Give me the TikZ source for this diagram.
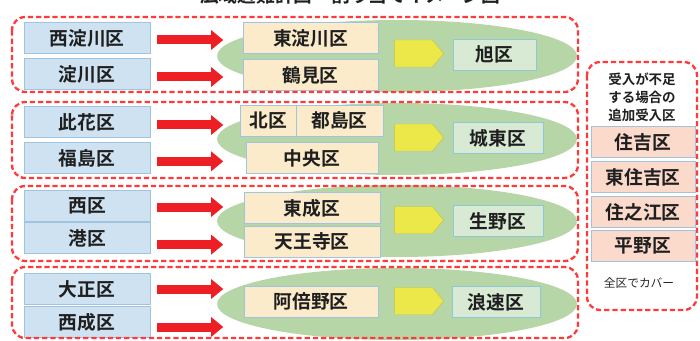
\documentclass[tikz,border=0pt]{standalone}
\usepackage{fontspec}
\setmainfont{Noto Sans CJK JP}[BoldFont={Noto Sans CJK JP Bold}]
\usetikzlibrary{shapes.geometric,shapes.symbols,arrows.meta}
\newcommand{\pxu}{0.03cm}
\definecolor{srcblue}{RGB}{207,226,242}
\definecolor{boxline}{RGB}{160,196,224}
\definecolor{beige}{RGB}{251,235,203}
\definecolor{dstgreen}{RGB}{216,233,212}
\definecolor{dstline}{RGB}{140,200,214}
\definecolor{peach}{RGB}{251,218,203}
\definecolor{ovalgreen}{RGB}{183,214,168}
\definecolor{signyellow}{RGB}{236,232,74}
\definecolor{signline}{RGB}{196,194,70}
\definecolor{arrowred}{RGB}{237,30,36}
\definecolor{dashred}{RGB}{255,58,58}

\begin{document}
\begin{tikzpicture}[x=\pxu,y=-\pxu,
  big_font/.style={font=\bfseries\fontsize{16}{18}\selectfont,text=black!88},
  src_node/.style={draw=boxline,fill=srcblue,minimum width=126*\pxu,minimum height=31*\pxu,inner sep=0,big_font},
  mid_node/.style={draw=boxline,fill=beige,minimum height=31*\pxu,inner sep=0,big_font},
  dst_node/.style={draw=dstline,fill=dstgreen,minimum height=31*\pxu,inner sep=0,big_font},
  add_node/.style={draw=boxline,fill=peach,minimum width=104*\pxu,minimum height=31*\pxu,inner sep=0,big_font},
  green_oval/.style={ellipse,fill=ovalgreen,minimum width=360*\pxu,minimum height=72*\pxu,inner sep=0},
  yellow_sign/.style={signal,signal to=east,signal pointer angle=100,fill=signyellow,draw=signline,minimum width=49*\pxu,minimum height=27*\pxu,inner sep=0},
  red_arrow/.style={draw=arrowred,line width=0.27cm,-{Triangle[width=0.57cm,length=0.36cm]}},
  group_frame/.style={draw=dashred,line width=0.07cm,dash pattern=on 4.5pt off 2.5pt,rounded corners=0.4cm}]
    \useasboundingbox (0,0) rectangle (700,341);
    \node[big_font,anchor=base] (0) at (350,3) {広域避難計画　割り当てイメージ図};

    % green areas
    \node[green_oval] (e1) at (397,56) {};
    \node[green_oval] (e2) at (397,139) {};
    \node[green_oval] (e3) at (397,221) {};
    \node[green_oval] (e4) at (397,304) {};

    % left side
    \node[src_node] (1) at (87,38) {西淀川区};
    \node[src_node] (2) at (87,74) {淀川区};
    \node[src_node] (3) at (87,122) {此花区};
    \node[src_node] (4) at (87,158) {福島区};
    \node[src_node] (5) at (87,206) {西区};
    \node[src_node] (6) at (87,238) {港区};
    \node[src_node] (7) at (87,289) {大正区};
    \node[src_node] (8) at (87,322) {西成区};

    % middle
    \node[mid_node,minimum width=135*\pxu] (9) at (310.5,38) {東淀川区};
    \node[mid_node,minimum width=135*\pxu] (10) at (310.5,75) {鶴見区};
    \node[mid_node,minimum width=56*\pxu] (11) at (268,120.5) {北区};
    \node[mid_node,minimum width=87*\pxu] (12) at (339.5,120.5) {都島区};
    \node[mid_node,minimum width=132*\pxu] (13) at (312,158) {中央区};
    \node[mid_node,minimum width=136*\pxu] (14) at (312,208) {東成区};
    \node[mid_node,minimum width=136*\pxu] (15) at (312,241.5) {天王寺区};
    \node[mid_node,minimum width=134*\pxu] (16) at (311,301.5) {阿倍野区};

    \node[yellow_sign] (y1) at (413.5,53.5) {};
    \node[yellow_sign] (y2) at (413.5,137.5) {};
    \node[yellow_sign] (y3) at (413.5,220) {};
    \node[yellow_sign] (y4) at (413.5,301) {};

    % right side
    \node[dst_node,minimum width=83*\pxu] (17) at (494.5,54.5) {旭区};
    \node[dst_node,minimum width=90*\pxu] (18) at (498,138) {城東区};
    \node[dst_node,minimum width=90*\pxu] (19) at (498,221) {生野区};
    \node[dst_node,minimum width=88*\pxu] (20) at (496,302) {浪速区};

    \draw[red_arrow] ([xshift=0.21cm,yshift=-0.06cm]1.east) -- ++(66,0);
    \draw[red_arrow] ([xshift=0.21cm,yshift=-0.09cm]2.east) -- ++(66,0);
    \draw[red_arrow] ([xshift=0.21cm,yshift=-0.09cm]3.east) -- ++(66,0);
    \draw[red_arrow] ([xshift=0.21cm,yshift=-0.1cm]4.east) -- ++(66,0);
    \draw[red_arrow] ([xshift=0.21cm,yshift=-0.03cm]5.east) -- ++(66,0);
    \draw[red_arrow] ([xshift=0.21cm,yshift=-0.2cm]6.east) -- ++(66,0);
    \draw[red_arrow] ([xshift=0.21cm]7.east) -- ++(66,0);
    \draw[red_arrow] ([xshift=0.21cm,yshift=-0.15cm]8.east) -- ++(66,0);

    \draw[group_frame] (12,17) rectangle (578,92);
    \draw[group_frame] (12,102) rectangle (578,178);
    \draw[group_frame] (12,186) rectangle (578,261);
    \draw[group_frame] (12,267) rectangle (578,338);

    % extra wards
    \draw[group_frame] (587,62) rectangle (697,310);
    \node[align=center,font=\bfseries\fontsize{11.5}{15.5}\selectfont,text=black!88] (21) at (642,97) {受入が不足\\する場合の\\追加受入区};
    \node[add_node] (22) at (643,142) {住吉区};
    \node[add_node] (23) at (643,177) {東住吉区};
    \node[add_node] (24) at (643,212) {住之江区};
    \node[add_node] (25) at (643,246) {平野区};
    \node[font=\fontsize{10}{12}\selectfont,text=black!85] (26) at (639,283) {全区でカバー};

\end{tikzpicture}
\end{document}
